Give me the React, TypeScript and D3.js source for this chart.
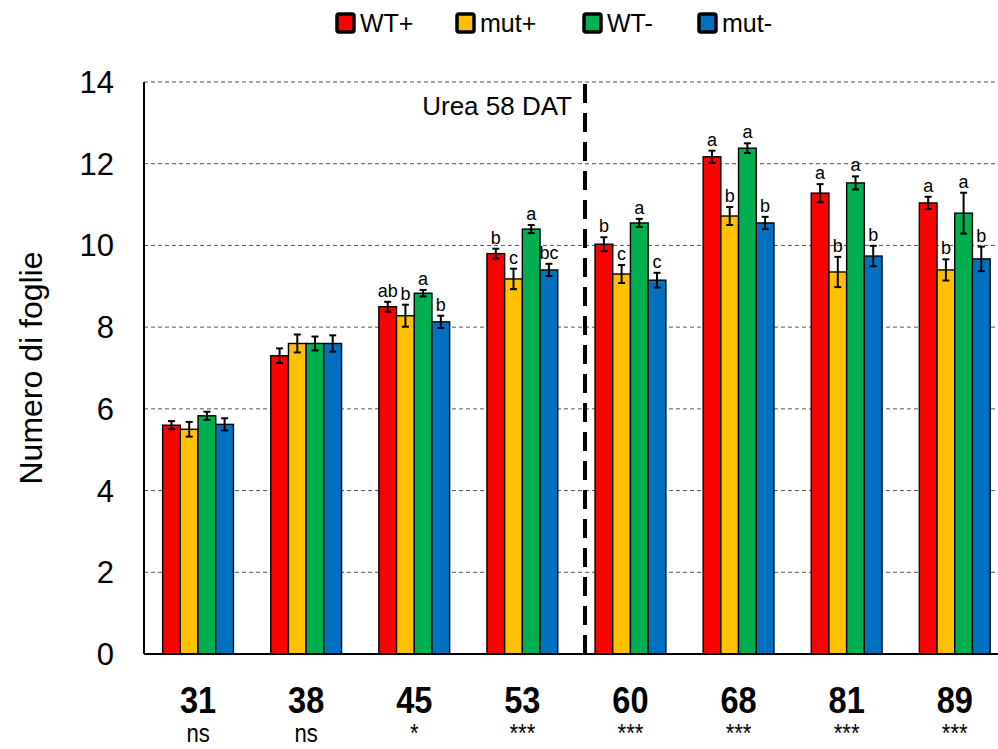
import React from "react";
import * as d3 from "d3";

const categories = ["31", "38", "45", "53", "60", "68", "81", "89"];
const significance = ["ns", "ns", "*", "***", "***", "***", "***", "***"];
const seriesNames = ["WT+", "mut+", "WT-", "mut-"];
const seriesColors = ["#ff0000", "#ffc000", "#00b050", "#0070c0"];

const wtPlus = [5.6, 7.3, 8.5, 9.8, 10.03, 12.17, 11.28, 11.04];
const mutPlus = [5.5, 7.6, 8.28, 9.18, 9.3, 10.72, 9.35, 9.4];
const wtMinus = [5.83, 7.6, 8.83, 10.4, 10.55, 12.38, 11.53, 10.79];
const mutMinus = [5.62, 7.6, 8.13, 9.4, 9.15, 10.55, 9.74, 9.67];

const errWtPlus = [0.1, 0.18, 0.12, 0.12, 0.17, 0.15, 0.22, 0.15];
const errMutPlus = [0.18, 0.22, 0.27, 0.25, 0.22, 0.22, 0.37, 0.26];
const errWtMinus = [0.1, 0.17, 0.08, 0.1, 0.1, 0.12, 0.16, 0.5];
const errMutMinus = [0.15, 0.2, 0.15, 0.15, 0.18, 0.15, 0.25, 0.3];

const lettersWtPlus = ["", "", "ab", "b", "b", "a", "a", "a"];
const lettersMutPlus = ["", "", "b", "c", "c", "b", "b", "b"];
const lettersWtMinus = ["", "", "a", "a", "a", "a", "a", "a"];
const lettersMutMinus = ["", "", "b", "bc", "c", "b", "b", "b"];

const yTicks = [0, 2, 4, 6, 8, 10, 12, 14];

const values = [wtPlus, mutPlus, wtMinus, mutMinus];
const errors = [errWtPlus, errMutPlus, errWtMinus, errMutMinus];
const letters = [lettersWtPlus, lettersMutPlus, lettersWtMinus, lettersMutMinus];

export default function App() {
  const W = 998;
  const H = 749;
  const left = 144;
  const x = d3.scaleBand().domain(categories).range([left, left + 8 * 108.1]).paddingInner(0.345).paddingOuter(0.1725);
  const xs = d3.scaleBand().domain(seriesNames).range([0, x.bandwidth()]);
  const y = d3.scaleLinear().domain([0, 14]).range([654, 82]);
  const font = "'Liberation Sans', Arial, sans-serif";
  const ureaX = 585;

  const legendX = [335, 455, 582, 697];

  return (
    <svg width={W} height={H} style={{ position: "absolute", left: 0, top: 0, background: "#fff" }} fontFamily={font}>
      <rect x={0} y={0} width={W} height={H} fill="#fff" />
      {/* legend */}
      {seriesNames.map((s, i) => (
        <g key={s}>
          <rect x={legendX[i] + 2} y={14} width={17} height={18} fill={seriesColors[i]} stroke="#000" strokeWidth={3.5} rx={2} />
          <text x={legendX[i] + 25} y={32} fontSize={25} fill="#000">{s}</text>
        </g>
      ))}
      {/* gridlines */}
      {yTicks.filter((t) => t > 0).map((t) => (
        <line key={t} x1={left} x2={W} y1={y(t)} y2={y(t)} stroke="#555" strokeWidth={1} strokeDasharray="4,3" />
      ))}
      {/* y tick labels */}
      {yTicks.map((t) => (
        <text key={t} x={114} y={y(t) + 11} fontSize={31} textAnchor="end" fill="#000">{t}</text>
      ))}
      <text transform={`translate(42,368) rotate(-90)`} fontSize={32} textAnchor="middle" fill="#000">Numero di foglie</text>
      {/* bars */}
      {categories.map((c, ci) => (
        <g key={c} transform={`translate(${x(c)},0)`}>
          {seriesNames.map((s, si) => {
            const v = values[si][ci];
            const e = errors[si][ci];
            const bx = xs(s)!;
            const bw = xs.bandwidth();
            const cx = bx + bw / 2;
            return (
              <g key={s}>
                <rect x={bx} y={y(v)} width={bw} height={y(0) - y(v)} fill={seriesColors[si]} stroke="#000" strokeWidth={1.4} />
                <line x1={cx} x2={cx} y1={y(v + e)} y2={y(v - e)} stroke="#000" strokeWidth={2} />
                <line x1={cx - 3.5} x2={cx + 3.5} y1={y(v + e)} y2={y(v + e)} stroke="#000" strokeWidth={2} />
                <line x1={cx - 3.5} x2={cx + 3.5} y1={y(v - e)} y2={y(v - e)} stroke="#000" strokeWidth={2} />
                {letters[si][ci] && (
                  <text x={cx} y={y(v + e) - 5} fontSize={18} textAnchor="middle" fill="#000">{letters[si][ci]}</text>
                )}
              </g>
            );
          })}
        </g>
      ))}
      {/* axes */}
      <line x1={left} x2={left} y1={y(14)} y2={y(0)} stroke="#000" strokeWidth={2} />
      <line x1={left} x2={W} y1={y(0)} y2={y(0)} stroke="#000" strokeWidth={2} />
      {/* urea line */}
      <line x1={ureaX} x2={ureaX} y1={84} y2={y(0)} stroke="#000" strokeWidth={4} strokeDasharray="19,10" />
      <text x={572} y={115} fontSize={26} textAnchor="end" fill="#000">Urea 58 DAT</text>
      {/* x labels */}
      {categories.map((c, ci) => {
        const cx = x(c)! + x.bandwidth() / 2;
        return (
          <g key={c}>
            <text transform={`translate(${cx},713) scale(0.88,1)`} fontSize={37} fontWeight="bold" textAnchor="middle" fill="#000">{c}</text>
            <text transform={`translate(${cx},742) scale(0.85,1)`} fontSize={26} textAnchor="middle" fill="#000">{significance[ci]}</text>
          </g>
        );
      })}
    </svg>
  );
}
